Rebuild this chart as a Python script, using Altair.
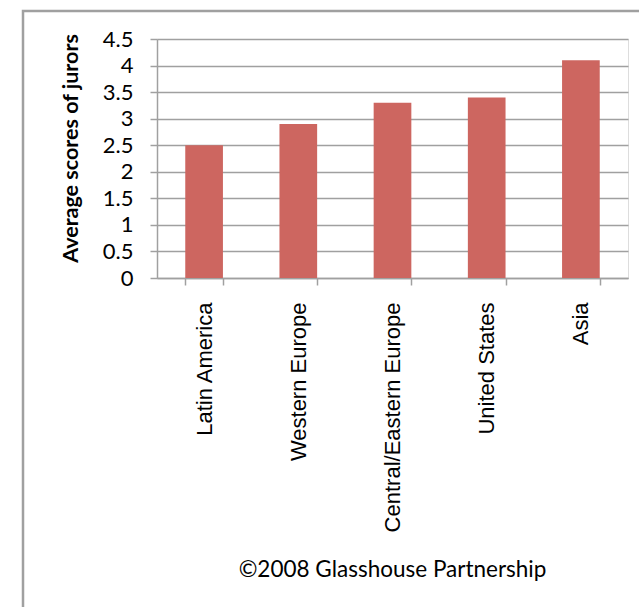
import altair as alt
import pandas as pd

regions = ["Latin America", "Western Europe", "Central/Eastern Europe", "United States", "Asia"]
scores = [2.5, 2.9, 3.3, 3.4, 4.1]
y_ticks = [0, 0.5, 1, 1.5, 2, 2.5, 3, 3.5, 4, 4.5]
footer = "©2008 Glasshouse Partnership"
y_title = "Average scores of jurors"

df = pd.DataFrame({"region": regions, "score": scores})

FONT = "Lato"
XFONT = "Liberation Sans"
GRAY = "#a0a0a0"

bars = alt.Chart(df).mark_bar(color="#CD6660").encode(
    x=alt.X("region:N", sort=regions, title=None,
            scale=alt.Scale(paddingInner=0.6, paddingOuter=0.3),
            axis=alt.Axis(labelAngle=-90, labelAlign="right", labelBaseline="middle",
                          labelPadding=17, labelLimit=400, tickSize=7, tickBand="extent",
                          domainColor=GRAY, tickColor=GRAY, domainWidth=1.5, tickWidth=1.5,
                          labelFont=XFONT, labelFontSize=22, labelColor="#000", grid=False)),
    y=alt.Y("score:Q", title=y_title,
            scale=alt.Scale(domain=[0, 4.5], nice=False),
            axis=alt.Axis(values=y_ticks, format="~g", tickSize=7, labelPadding=17,
                          domainColor=GRAY, tickColor=GRAY, domainWidth=1.5, tickWidth=1.5,
                          gridColor=GRAY, gridWidth=1.5, labelFont=FONT, labelFontSize=22,
                          labelColor="#000", titleFont=FONT, titleFontSize=21.5, titleFontWeight="bold",
                          titleColor="#000", titleAngle=-90, titleX=-80, titleY=109,
                          titleAlign="center", titleBaseline="alphabetic")),
)

frame = alt.Chart(alt.Data(values=[{"f": 1}])).mark_rect(
    fill=None, stroke=GRAY, strokeWidth=2.5
).encode(x=alt.value(-134), x2=alt.value(700), y=alt.value(-28), y2=alt.value(700))

note = alt.Chart(alt.Data(values=[{"t": footer}])).mark_text(
    font=FONT, fontSize=22.5, color="#000", align="center", baseline="alphabetic"
).encode(text="t:N", x=alt.value(235.5), y=alt.value(538))

chart = alt.layer(frame, bars, note).properties(
    width=471, height=239,
    autosize=alt.AutoSizeParams(type="none"),
    padding={"left": 157, "top": 39, "right": 11, "bottom": 329},
).configure_view(stroke=None).configure(background="white")

chart.save("out.html", embed_options={"renderer": "svg", "actions": False})
